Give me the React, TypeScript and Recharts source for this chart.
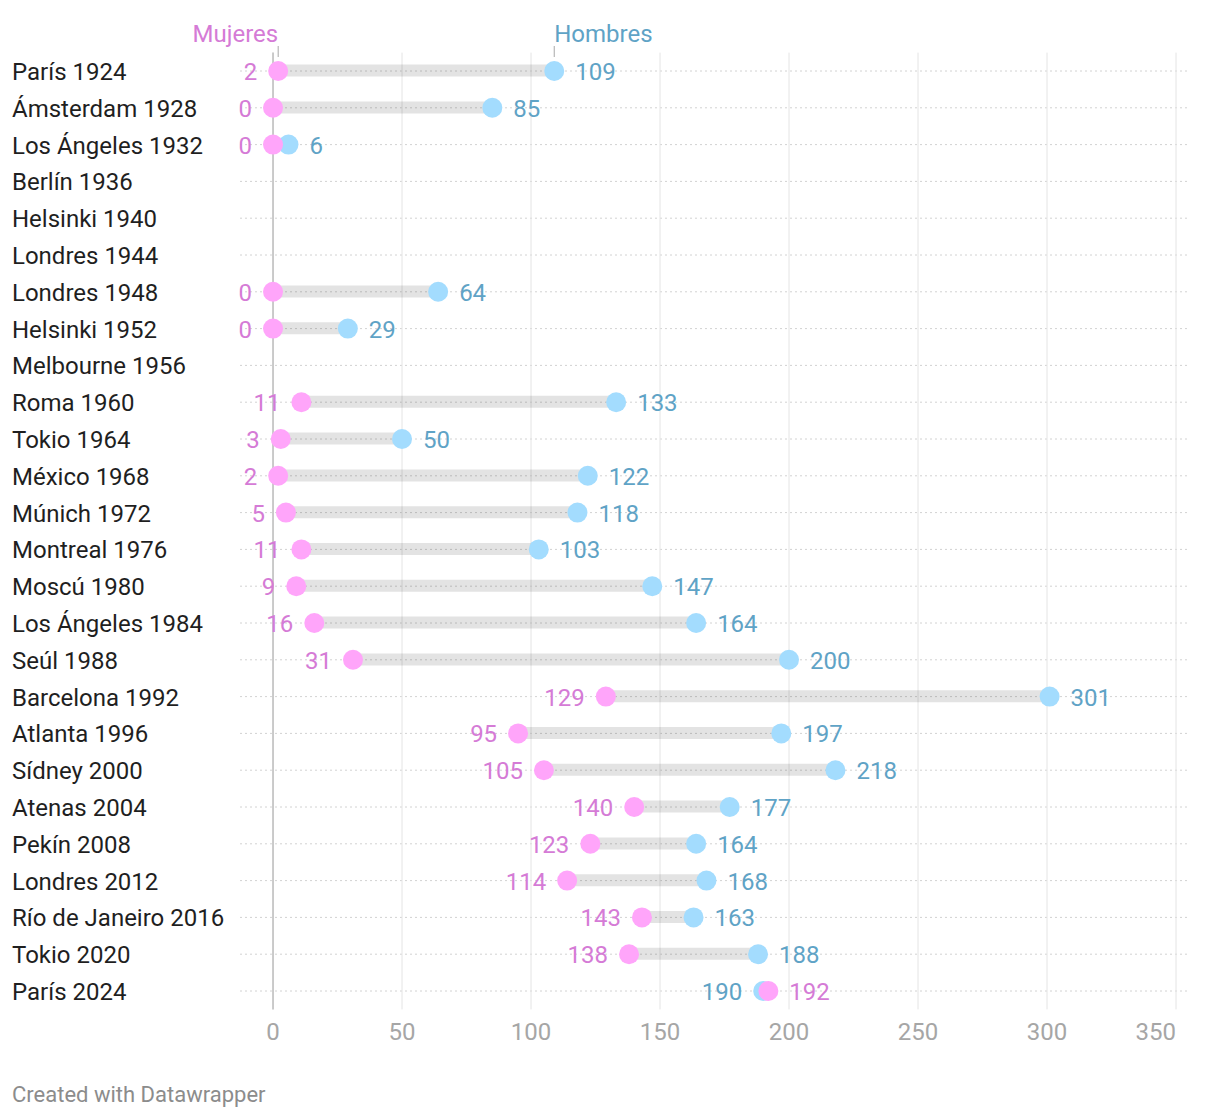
import React from 'react';
import { ComposedChart, Bar, Line, XAxis, YAxis, CartesianGrid, ReferenceLine } from 'recharts';

const games = [
  'París 1924', 'Ámsterdam 1928', 'Los Ángeles 1932', 'Berlín 1936', 'Helsinki 1940',
  'Londres 1944', 'Londres 1948', 'Helsinki 1952', 'Melbourne 1956', 'Roma 1960',
  'Tokio 1964', 'México 1968', 'Múnich 1972', 'Montreal 1976', 'Moscú 1980',
  'Los Ángeles 1984', 'Seúl 1988', 'Barcelona 1992', 'Atlanta 1996', 'Sídney 2000',
  'Atenas 2004', 'Pekín 2008', 'Londres 2012', 'Río de Janeiro 2016', 'Tokio 2020', 'París 2024',
];
const women: (number | null)[] = [
  2, 0, 0, null, null, null, 0, 0, null, 11, 3, 2, 5, 11, 9, 16, 31, 129, 95, 105, 140, 123, 114, 143, 138, 192,
];
const men: (number | null)[] = [
  109, 85, 6, null, null, null, 64, 29, null, 133, 50, 122, 118, 103, 147, 164, 200, 301, 197, 218, 177, 164, 168, 163, 188, 190,
];
const xTicks = [0, 50, 100, 150, 200, 250, 300, 350];
const womenName = 'Mujeres';
const menName = 'Hombres';
const footer = 'Created with Datawrapper';

const data = games.map((name, i) => {
  const w = women[i];
  const m = men[i];
  return {
    name,
    w,
    m,
    range: w == null || m == null ? null : [Math.min(w, m), Math.max(w, m)],
  };
});

const PINK_DOT = '#ffa5fa';
const PINK_TEXT = '#d57bd6';
const BLUE_DOT = '#a3dcfe';
const BLUE_TEXT = '#5fa3c6';
const FONT = 'Roboto, "DejaVu Sans", sans-serif';
const FS = 24;

const makeDot = (key: 'w' | 'm', dotColor: string, textColor: string, header: string) => (props: any) => {
  const { cx, cy, index, payload } = props;
  const v = payload ? payload[key] : null;
  if (v == null || cx == null || cy == null || isNaN(cx) || isNaN(cy)) {
    return <g key={`${key}-${index}`} />;
  }
  const other = payload[key === 'w' ? 'm' : 'w'];
  const isLeft = other == null ? key === 'w' : key === 'w' ? v <= other : v < other;
  return (
    <g key={`${key}-${index}`}>
      <circle cx={cx} cy={cy} r={10} fill={dotColor} />
      <text
        x={isLeft ? cx - 21 : cx + 21}
        y={cy + 9}
        textAnchor={isLeft ? 'end' : 'start'}
        fill={textColor}
        fontSize={FS}
        fontFamily={FONT}
      >
        {v}
      </text>
      {index === 0 ? (
        <g>
          <line x1={cx} x2={cx} y1={cy - 25} y2={cy - 14} stroke="#a8a8a8" strokeWidth={1} />
          <text
            x={cx}
            y={cy - 29}
            textAnchor={key === 'w' ? 'end' : 'start'}
            fill={textColor}
            fontSize={FS}
            fontFamily={FONT}
          >
            {header}
          </text>
        </g>
      ) : null}
    </g>
  );
};

const YTick = (props: any) => {
  const { y, payload } = props;
  return (
    <text x={12} y={y + 9} textAnchor="start" fill="#1f1f1f" fontSize={FS} fontFamily={FONT}>
      {payload.value}
    </text>
  );
};

const XTick = (props: any) => {
  const { x, y, payload } = props;
  const last = payload.value === xTicks[xTicks.length - 1];
  return (
    <text x={x} y={y + 31} textAnchor={last ? 'end' : 'middle'} fill="#a6a6a6" fontSize={FS} fontFamily={FONT}>
      {payload.value}
    </text>
  );
};

export default function App() {
  return (
    <div style={{ position: 'absolute', left: 0, top: 0, width: 1220, height: 1120, background: '#fff', fontFamily: FONT }}>
      <ComposedChart
        width={1220}
        height={1120}
        data={data}
        layout="vertical"
        margin={{ top: 52.6, right: 32, bottom: 70.6, left: 0 }}
      >
        <CartesianGrid horizontal={true} vertical={false} syncWithTicks stroke="#d2d2d2" strokeDasharray="2 3" />
        <CartesianGrid horizontal={false} vertical={true} syncWithTicks stroke="#e4e4e4" />
        <XAxis
          type="number"
          domain={[-12.8, 354.65]}
          ticks={xTicks}
          axisLine={false}
          tickLine={false}
          tickSize={0}
          tickMargin={0}
          height={40}
          tick={<XTick />}
          interval={0}
        />
        <YAxis
          type="category"
          dataKey="name"
          width={240}
          axisLine={false}
          tickLine={false}
          interval={0}
          tick={<YTick />}
        />
        <ReferenceLine x={0} stroke="#bdbdbd" strokeWidth={1.5} />
        <Bar dataKey="range" barSize={12} fill="#000" fillOpacity={0.11} isAnimationActive={false} />
        <Line
          dataKey="m"
          stroke="none"
          strokeWidth={0}
          activeDot={false}
          isAnimationActive={false}
          dot={makeDot('m', BLUE_DOT, BLUE_TEXT, menName)}
        />
        <Line
          dataKey="w"
          stroke="none"
          strokeWidth={0}
          activeDot={false}
          isAnimationActive={false}
          dot={makeDot('w', PINK_DOT, PINK_TEXT, womenName)}
        />
      </ComposedChart>
      <div style={{ position: 'absolute', left: 12, top: 1082, fontSize: 22, color: '#8c8c8c', fontFamily: FONT }}>
        {footer}
      </div>
    </div>
  );
}
